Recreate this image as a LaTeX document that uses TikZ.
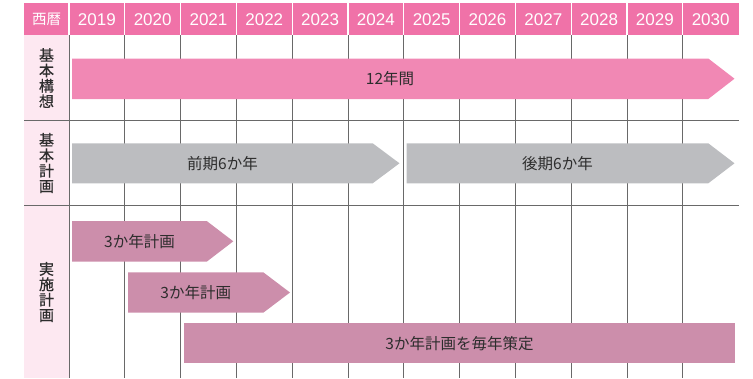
\documentclass[tikz,border=0pt]{standalone}
\usepackage{fontspec}
\setmainfont{Noto Sans CJK JP}
\newfontfamily\yearfont{Liberation Sans}
\newfontfamily\lblfont[FakeBold=0.7]{Noto Sans CJK JP}
\definecolor{hdr}{RGB}{240,114,168}
\definecolor{lbl}{RGB}{253,232,241}
\definecolor{barA}{RGB}{241,136,180}
\definecolor{barB}{RGB}{188,189,192}
\definecolor{barC}{RGB}{204,142,171}
\definecolor{gridc}{RGB}{105,105,105}
\definecolor{txt}{RGB}{45,45,45}
\tikzset{
  yr/.style={text=white,font=\yearfont\fontsize{17}{17}\selectfont,inner sep=0pt},
  rowlbl/.style={text=txt,font=\lblfont\fontsize{15}{15.4}\selectfont,align=center,inner sep=0pt},
  bartext/.style={text=txt,font=\fontsize{15.5}{16}\selectfont,inner sep=0pt},
  vline/.style={draw=gridc,line width=1pt},
  hline/.style={draw=gridc,line width=1.4pt},
}
\begin{document}
\begin{tikzpicture}[x=1pt,y=-1pt]
\useasboundingbox (0,0) rectangle (753,378);
% label column and header
\fill[lbl] (24,35) rectangle (69,378);
\fill[hdr] (24,3) rectangle (738.6,35);
\foreach \i in {0,...,11}
  \draw[white,line width=1.3pt] ({69+55.8*\i},3) -- ({69+55.8*\i},35);
% grid
\foreach \i in {0,...,11}
  \draw[vline] ({69+55.8*\i},35) -- ({69+55.8*\i},378);
\draw[hline] (24,120.5) -- (738.6,120.5);
\draw[hline] (24,205.5) -- (738.6,205.5);
% header texts
\node[text=white,font=\fontsize{14.5}{14.5}\selectfont,inner sep=0pt] (seireki) at (46.5,19) {西暦};
\foreach \y [count=\i from 0] in {2019,2020,2021,2022,2023,2024,2025,2026,2027,2028,2029,2030}
  \node[yr] (y\y) at ({69+55.8*\i+27.9},19.5) {\y};
% row labels
\node[rowlbl] (r1) at (46.5,78) {基\\本\\構\\想};
\node[rowlbl] (r2) at (46.5,163) {基\\本\\計\\画};
\node[rowlbl] (r3) at (46.5,292) {実\\施\\計\\画};
% bars
\fill[barA] (72,58.5) -- (708.3,58.5) -- (734.5,78.7) -- (708.3,99) -- (72,99) -- cycle;
\node[bartext] (b1) at (390,78.7) {12年間};
\fill[barB] (72,143.3) -- (372.7,143.3) -- (399.5,163.3) -- (372.7,183.3) -- (72,183.3) -- cycle;
\node[bartext] (b2) at (222.5,163.3) {前期6か年};
\fill[barB] (406.7,143.3) -- (708.3,143.3) -- (734.5,163.3) -- (708.3,183.3) -- (406.7,183.3) -- cycle;
\node[bartext] (b3) at (557.5,163.3) {後期6か年};
\fill[barC] (72,221) -- (206.7,221) -- (233.3,241.3) -- (206.7,261.7) -- (72,261.7) -- cycle;
\node[bartext] (b4) at (139.5,241.3) {3か年計画};
\fill[barC] (128,272.3) -- (263.3,272.3) -- (290,292.5) -- (263.3,312.7) -- (128,312.7) -- cycle;
\node[bartext] (b5) at (195.7,292.5) {3か年計画};
\fill[barC] (184,323.3) rectangle (735,363.3);
\node[bartext] (b6) at (459.5,343.3) {3か年計画を毎年策定};
\end{tikzpicture}
\end{document}
